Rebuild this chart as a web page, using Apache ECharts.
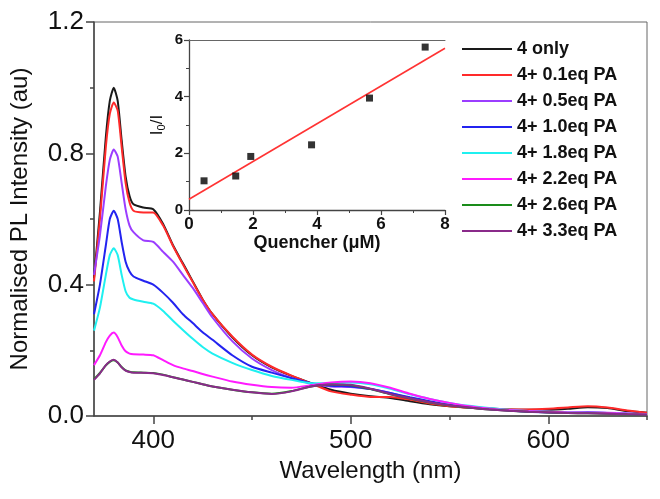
<!DOCTYPE html>
<html>
<head>
<meta charset="utf-8">
<script src="https://cdn.jsdelivr.net/npm/echarts@6/dist/echarts.min.js"></script>
<style>html,body{margin:0;padding:0;background:#fff}#c{width:660px;height:499px}</style>
</head>
<body>
<div id="c"></div>
<script>
var wavelength = [370,373,376,378,380,382,384,386,388,390,395,400,405,410,415,420,425,430,440,450,460,470,480,490,500,510,520,530,540,550,560,570,580,590,600,610,620,630,640,650];
var only4 = [0.42,0.62,0.85,0.96,1.0,0.96,0.84,0.73,0.67,0.645,0.635,0.63,0.585,0.52,0.465,0.41,0.355,0.31,0.24,0.185,0.148,0.122,0.1,0.08,0.068,0.06,0.055,0.045,0.036,0.03,0.026,0.023,0.02,0.019,0.019,0.022,0.027,0.024,0.015,0.01];
var pa01 = [0.41,0.6,0.82,0.92,0.955,0.93,0.82,0.71,0.65,0.625,0.62,0.62,0.58,0.518,0.462,0.408,0.355,0.31,0.242,0.187,0.15,0.123,0.099,0.075,0.065,0.058,0.058,0.05,0.038,0.03,0.025,0.022,0.02,0.02,0.022,0.026,0.03,0.026,0.017,0.01];
var pa05 = [0.43,0.55,0.7,0.78,0.812,0.79,0.71,0.63,0.58,0.56,0.535,0.53,0.5,0.47,0.43,0.39,0.345,0.3,0.228,0.175,0.14,0.116,0.098,0.09,0.088,0.082,0.07,0.055,0.042,0.033,0.026,0.021,0.017,0.014,0.012,0.011,0.012,0.01,0.008,0.006];
var pa10 = [0.31,0.4,0.52,0.6,0.625,0.6,0.53,0.47,0.44,0.425,0.412,0.4,0.375,0.345,0.31,0.283,0.255,0.232,0.185,0.15,0.132,0.115,0.1,0.092,0.09,0.082,0.07,0.057,0.045,0.035,0.027,0.021,0.017,0.013,0.011,0.01,0.01,0.008,0.006,0.005];
var pa18 = [0.26,0.33,0.43,0.49,0.511,0.49,0.43,0.38,0.36,0.355,0.348,0.342,0.32,0.29,0.262,0.235,0.21,0.19,0.162,0.14,0.122,0.11,0.1,0.1,0.102,0.097,0.083,0.066,0.052,0.04,0.031,0.024,0.019,0.015,0.013,0.011,0.01,0.009,0.007,0.005];
var pa22 = [0.155,0.185,0.225,0.245,0.254,0.24,0.215,0.197,0.19,0.188,0.187,0.185,0.17,0.155,0.145,0.137,0.128,0.12,0.105,0.095,0.088,0.086,0.094,0.102,0.105,0.1,0.086,0.068,0.052,0.04,0.03,0.023,0.018,0.015,0.013,0.011,0.01,0.009,0.007,0.005];
var pa26 = [0.112,0.131,0.154,0.165,0.17,0.163,0.149,0.139,0.135,0.133,0.132,0.131,0.126,0.118,0.111,0.104,0.097,0.09,0.08,0.072,0.068,0.076,0.09,0.096,0.094,0.082,0.066,0.053,0.041,0.032,0.025,0.02,0.016,0.013,0.011,0.009,0.008,0.007,0.005,0.004];
var pa33 = [0.11,0.13,0.155,0.166,0.171,0.163,0.148,0.138,0.134,0.132,0.132,0.13,0.125,0.118,0.111,0.104,0.097,0.09,0.08,0.072,0.067,0.075,0.09,0.096,0.095,0.083,0.067,0.054,0.042,0.033,0.026,0.02,0.016,0.013,0.011,0.009,0.008,0.007,0.005,0.004];

var seriesNames = ['4 only','4+ 0.1eq PA','4+ 0.5eq PA','4+ 1.0eq PA','4+ 1.8eq PA','4+ 2.2eq PA','4+ 2.6eq PA','4+ 3.3eq PA'];
var seriesColors = ['#1a1a1a','#ff2a2a','#9b3dff','#2323f0','#1ff0f0','#ff1aff','#1a8c1a','#8a2a8a'];
var seriesValues = [only4,pa01,pa05,pa10,pa18,pa22,pa26,pa33];

var xMajorTicks = [400,500,600];
var xMinorTicks = [450,550,650];

var quencher = [0.47,1.46,1.93,3.83,5.64,7.38];
var i0OverI = [1.03,1.2,1.89,2.3,3.95,5.75];
var fitX = [0,8];
var fitY = [0.38,5.71];

var FONT = '"Liberation Sans", Arial, sans-serif';
var AX = '#444';

function pairs(xs, ys){ return xs.map(function(x,i){ return [x, ys[i]]; }); }

var series = seriesNames.map(function(n,i){
  return {
    name: n, type: 'line', xAxisIndex: 0, yAxisIndex: 0,
    data: pairs(wavelength, seriesValues[i]),
    symbol: 'none', smooth: 0.2,
    lineStyle: {width: 2, color: seriesColors[i]},
    itemStyle: {color: seriesColors[i]},
    z: 3 + i
  };
});
series.push({
  type: 'line', xAxisIndex: 3, yAxisIndex: 1,
  data: pairs(fitX, fitY), symbol: 'none',
  lineStyle: {width: 1.6, color: '#ff3333'}, z: 20
});
series.push({
  type: 'scatter', xAxisIndex: 3, yAxisIndex: 1,
  data: pairs(quencher, i0OverI), symbol: 'rect', symbolSize: 7,
  itemStyle: {color: '#000'}, z: 21
});

var chart = echarts.init(document.getElementById('c'), null, {renderer: 'canvas'});
chart.setOption({
  animation: false,
  backgroundColor: '#fff',
  textStyle: {fontFamily: FONT},
  legend: {
    data: seriesNames,
    orient: 'vertical', left: 462, top: 40, padding: 0,
    itemWidth: 50, itemHeight: 14, itemGap: 8,
    icon: 'path://M0,6 L50,6 L50,8 L0,8 Z',
    textStyle: {fontSize: 18, fontWeight: 'bold', color: '#111', fontFamily: FONT}
  },
  grid: [
    {left: 92, top: 22, right: 13, bottom: 83, show: true, borderColor: '#666', borderWidth: 1, backgroundColor: 'transparent'},
    {left: 189, top: 40, right: 215, bottom: 289}
  ],
  xAxis: [
    {type: 'value', gridIndex: 0, min: 370, max: 650, position: 'bottom',
     name: 'Wavelength (nm)', nameLocation: 'middle', nameGap: 42,
     nameTextStyle: {fontSize: 24, color: '#111', fontFamily: FONT},
     axisLine: {show: true, onZero: false, lineStyle: {color: AX, width: 1.5}},
     axisTick: {show: true, inside: false, length: 8, lineStyle: {color: AX, width: 1.5}, customValues: xMajorTicks},
     axisLabel: {show: true, fontSize: 26, color: '#111', margin: 12, customValues: xMajorTicks},
     splitLine: {show: false}},
    {type: 'value', gridIndex: 0, min: 370, max: 650, position: 'bottom',
     axisLine: {show: false},
     axisTick: {show: true, inside: false, length: 4, lineStyle: {color: AX, width: 1.5}, customValues: xMinorTicks},
     axisLabel: {show: false}, splitLine: {show: false}},
    {type: 'value', gridIndex: 1, min: 0, max: 8, position: 'top',
     axisLine: {show: true, onZero: false, lineStyle: {color: '#666', width: 1}},
     axisTick: {show: false}, axisLabel: {show: false}, splitLine: {show: false}},
    {type: 'value', gridIndex: 1, min: 0, max: 8, interval: 2, position: 'bottom',
     name: 'Quencher (μM)', nameLocation: 'middle', nameGap: 23,
     nameTextStyle: {fontSize: 18, fontWeight: 'bold', color: '#111', fontFamily: FONT},
     axisLine: {show: true, onZero: false, lineStyle: {color: AX, width: 1.3}},
     axisTick: {show: true, inside: false, length: 5, lineStyle: {color: AX, width: 1.2}},
     minorTick: {show: true, splitNumber: 2, length: 3, lineStyle: {color: AX, width: 1}},
     axisLabel: {fontSize: 17, fontWeight: 'bold', color: '#111', margin: 6},
     splitLine: {show: false}}
  ],
  yAxis: [
    {type: 'value', gridIndex: 0, min: 0, max: 1.2, interval: 0.4,
     name: 'Normalised PL Intensity (au)', nameLocation: 'middle', nameGap: 62,
     nameTextStyle: {fontSize: 24, color: '#111', fontFamily: FONT},
     axisLine: {show: true, onZero: false, lineStyle: {color: AX, width: 1.5}},
     axisTick: {show: true, inside: false, length: 8, lineStyle: {color: AX, width: 1.5}},
     minorTick: {show: true, splitNumber: 2, length: 4, lineStyle: {color: AX, width: 1.5}},
     axisLabel: {fontSize: 26, color: '#111', margin: 10, formatter: function(v){ return v.toFixed(1); }},
     splitLine: {show: false}},
    {type: 'value', gridIndex: 1, min: 0, max: 6, interval: 2,
     axisLine: {show: true, onZero: false, lineStyle: {color: AX, width: 1.3}},
     axisTick: {show: true, inside: false, length: 5, lineStyle: {color: AX, width: 1.2}},
     minorTick: {show: true, splitNumber: 2, length: 3, lineStyle: {color: AX, width: 1}},
     axisLabel: {fontSize: 15, fontWeight: 'bold', color: '#111', margin: 6},
     name: '{a|I}{s|0}{a|/I}', nameLocation: 'middle', nameGap: 22, nameRotate: 90,
     nameTextStyle: {rich: {
       a: {fontSize: 17, fontWeight: 'normal', color: '#111', fontFamily: FONT},
       s: {fontSize: 11, color: '#111', fontFamily: FONT, verticalAlign: 'bottom', padding: [8,0,0,0]}
     }},
     splitLine: {show: false}}
  ],
  series: series
});
</script>
</body>
</html>
